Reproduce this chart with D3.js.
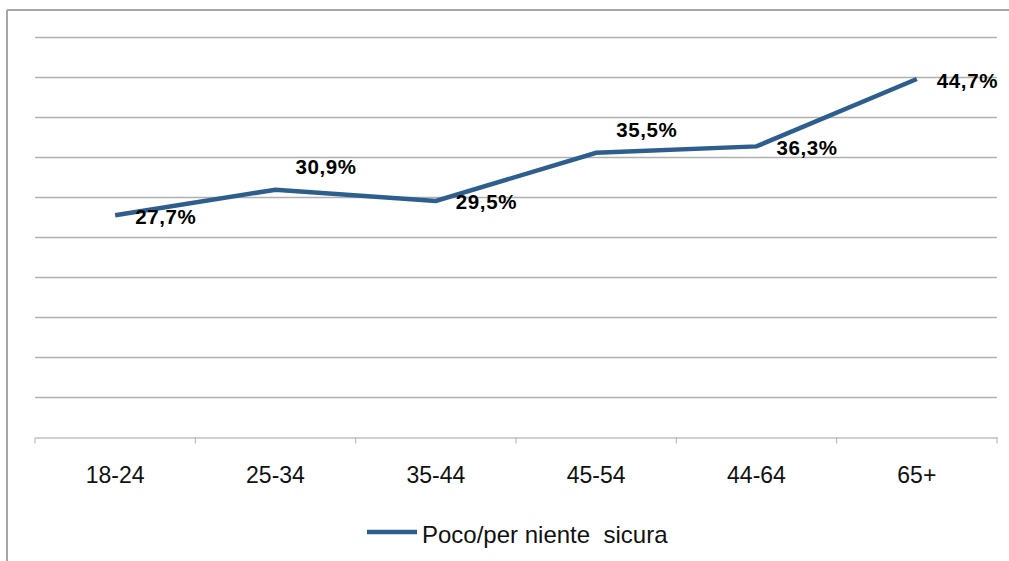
<!DOCTYPE html>
<html>
<head>
<meta charset="utf-8">
<script src="https://cdn.jsdelivr.net/npm/d3@7"></script>
<style>
  html, body { margin: 0; padding: 0; background: #fff; }
  svg { display: block; font-family: "Liberation Sans", Arial, sans-serif; }
</style>
</head>
<body>
<svg id="chart" width="1009" height="561"></svg>
<script>
// Age groups and share answering "poco/per niente sicura"
const categories = ["18-24", "25-34", "35-44", "45-54", "44-64", "65+"];
const values = [27.7, 30.9, 29.5, 35.5, 36.3, 44.7];
const labelSide = ["right", "above", "right", "above", "right", "right"];
const yTicks = [0, 5, 10, 15, 20, 25, 30, 35, 40, 45, 50];
const seriesName = "Poco/per niente  sicura";

const svg = d3.select("#chart");
const W = 1009, H = 561;
const plot = { left: 35, right: 997, top: 36.5, bottom: 437.5 };
const lineColor = "#2e5e8e";

// Outer frame (top and left edges)
svg.append("line").attr("x1", 7).attr("x2", W).attr("y1", 10).attr("y2", 10)
  .attr("stroke", "#a6a6a6").attr("stroke-width", 2.2);
svg.append("line").attr("x1", 7).attr("x2", 7).attr("y1", 10).attr("y2", H)
  .attr("stroke", "#a6a6a6").attr("stroke-width", 2);

const x = d3.scaleBand().domain(categories).range([plot.left, plot.right]).padding(0);
const y = d3.scaleLinear().domain([0, 50]).range([plot.bottom, plot.top]);

// Horizontal gridlines
svg.append("g")
  .selectAll("line")
  .data(yTicks.filter(d => d > 0))
  .join("line")
  .attr("x1", plot.left).attr("x2", plot.right)
  .attr("y1", d => Math.round(y(d)) + 0.5).attr("y2", d => Math.round(y(d)) + 0.5)
  .attr("stroke", "#b0b0b0").attr("stroke-width", 1.4);

// Category axis
const xAxis = svg.append("g")
  .attr("transform", `translate(0,${plot.bottom})`)
  .call(d3.axisBottom(x).tickSize(0).tickPadding(0).tickFormat(""));
xAxis.select(".domain").attr("stroke", "#c0c0c0").attr("stroke-width", 1.4);
xAxis.selectAll(".tick").remove();

// Tick marks at band boundaries
const boundaries = categories.map(c => x(c)).concat([x(categories[categories.length - 1]) + x.bandwidth()]);
svg.append("g").selectAll("line").data(boundaries).join("line")
  .attr("x1", d => d).attr("x2", d => d)
  .attr("y1", plot.bottom).attr("y2", plot.bottom + 6)
  .attr("stroke", "#b0b0b0").attr("stroke-width", 1);

// Category labels
svg.append("g").selectAll("text").data(categories).join("text")
  .attr("x", d => x(d) + x.bandwidth() / 2)
  .attr("y", 483)
  .attr("text-anchor", "middle")
  .attr("font-size", 23)
  .attr("fill", "#111")
  .text(d => d);

// Series line
const pts = categories.map((c, i) => [x(c) + x.bandwidth() / 2, y(values[i])]);
svg.append("path")
  .attr("d", d3.line()(pts))
  .attr("fill", "none")
  .attr("stroke", lineColor)
  .attr("stroke-width", 4.5)
  .attr("stroke-linejoin", "miter");

// Data labels
const fmt = v => v.toFixed(1).replace(".", ",") + "%";
svg.append("g").selectAll("text").data(values).join("text")
  .attr("x", (d, i) => pts[i][0] + 20)
  .attr("y", (d, i) => pts[i][1] + (labelSide[i] === "above" ? -16 : 8.5))
  .attr("font-size", 20.5)
  .attr("font-weight", "bold")
  .attr("letter-spacing", 0.6)
  .attr("fill", "#000")
  .text(d => fmt(d));

// Legend
svg.append("line").attr("x1", 367).attr("x2", 417).attr("y1", 532).attr("y2", 532)
  .attr("stroke", lineColor).attr("stroke-width", 4.5);
svg.append("text")
  .attr("x", 422).attr("y", 543)
  .attr("font-size", 24)
  .attr("fill", "#111")
  .style("white-space", "pre")
  .text(seriesName);
</script>
</body>
</html>
